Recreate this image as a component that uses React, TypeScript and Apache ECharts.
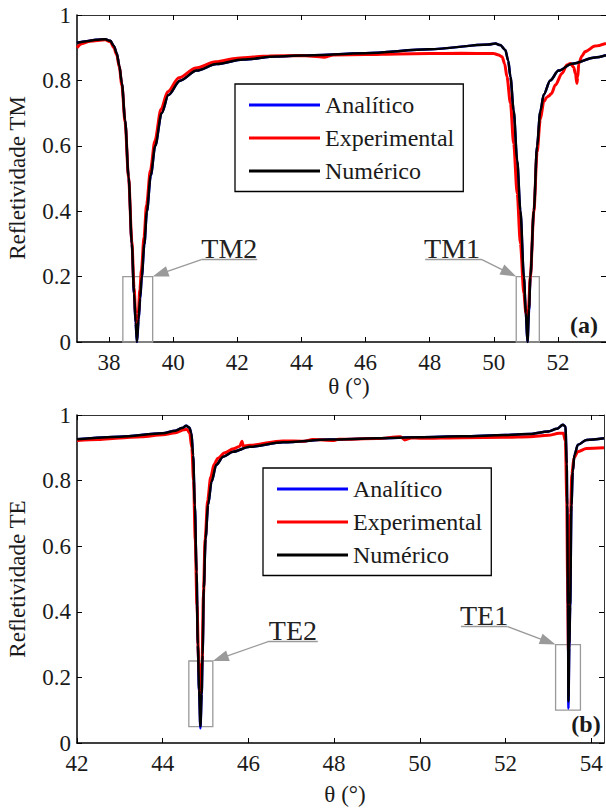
import React, { useEffect, useRef } from 'react';
import * as echarts from 'echarts';

const FONT = 'Liberation Serif';
const TEXT = '#1a1a1a';
const NOTE = '#9a9a9a';

const SERIES_NAMES = ['Analítico', 'Experimental', 'Numérico'];
const SERIES_COLORS = ['#0000ff', '#ff0000', '#000000'];

// ---- (a) TM reflectivity ----
const tmTicks = [38, 40, 42, 44, 46, 48, 50, 52];
const tmRange = [37, 53.5];

const tmNumerico: number[][] = [
  [37.0, 0.915], [37.3, 0.92], [37.6, 0.924], [37.88, 0.926], [38.04, 0.921], [38.15, 0.905],
  [38.24, 0.883], [38.32, 0.845], [38.4, 0.791], [38.5, 0.679], [38.61, 0.505], [38.71, 0.302],
  [38.78, 0.149], [38.83, 0.06], [38.87, 0.0], [38.92, 0.07], [38.97, 0.135], [39.02, 0.2],
  [39.1, 0.3], [39.18, 0.4], [39.3, 0.51], [39.44, 0.6], [39.64, 0.7], [39.85, 0.755],
  [40.21, 0.799], [40.73, 0.83], [41.35, 0.85], [42.18, 0.864], [43.22, 0.873], [44.0, 0.876],
  [46.0, 0.883], [48.0, 0.895], [49.84, 0.91], [50.05, 0.913], [50.2, 0.908], [50.36, 0.893],
  [50.45, 0.86], [50.52, 0.811], [50.62, 0.709], [50.73, 0.556], [50.83, 0.403], [50.94, 0.199],
  [51.0, 0.09], [51.05, 0.0], [51.1, 0.1], [51.14, 0.199], [51.25, 0.403], [51.35, 0.6],
  [51.45, 0.705], [51.56, 0.757], [51.76, 0.8], [52.02, 0.83], [52.44, 0.851], [53.16, 0.87],
  [53.5, 0.877],
];

const tmAnalitico: number[][] = [
  [37.0, 0.915], [37.3, 0.92], [37.6, 0.924], [37.88, 0.926], [38.04, 0.921], [38.15, 0.905],
  [38.24, 0.883], [38.32, 0.845], [38.4, 0.79], [38.5, 0.677], [38.61, 0.502], [38.71, 0.298],
  [38.78, 0.145], [38.83, 0.055], [38.87, 0.0], [38.92, 0.065], [38.97, 0.13], [39.02, 0.197],
  [39.1, 0.297], [39.18, 0.398], [39.3, 0.508], [39.44, 0.6], [39.64, 0.7], [39.85, 0.755],
  [40.21, 0.799], [40.73, 0.83], [41.35, 0.85], [42.18, 0.864], [43.22, 0.873], [44.0, 0.876],
  [46.0, 0.883], [48.0, 0.895], [49.84, 0.91], [50.05, 0.913], [50.2, 0.908], [50.36, 0.893],
  [50.45, 0.86], [50.52, 0.81], [50.62, 0.706], [50.73, 0.552], [50.83, 0.398], [50.94, 0.195],
  [51.0, 0.085], [51.05, 0.0], [51.1, 0.095], [51.14, 0.195], [51.25, 0.4], [51.35, 0.598],
  [51.45, 0.704], [51.56, 0.757], [51.76, 0.8], [52.02, 0.83], [52.44, 0.851], [53.16, 0.87],
  [53.5, 0.877],
];

const tmExperimental: number[][] = [
  [37.0, 0.9], [37.15, 0.912], [37.4, 0.92], [37.88, 0.924], [38.04, 0.918], [38.15, 0.9],
  [38.24, 0.878], [38.32, 0.84], [38.4, 0.785], [38.5, 0.672], [38.61, 0.5], [38.71, 0.31],
  [38.78, 0.165], [38.83, 0.085], [38.87, 0.046], [38.91, 0.085], [38.96, 0.16], [39.01, 0.22],
  [39.09, 0.32], [39.17, 0.42], [39.29, 0.525], [39.43, 0.615], [39.62, 0.712], [39.83, 0.765],
  [40.18, 0.808], [40.71, 0.838], [41.33, 0.857], [42.0, 0.868], [43.0, 0.875], [44.0, 0.876],
  [44.7, 0.871], [45.0, 0.878], [46.0, 0.879], [47.0, 0.881], [48.0, 0.882], [49.0, 0.883],
  [50.0, 0.882], [50.15, 0.878], [50.26, 0.872], [50.34, 0.85], [50.41, 0.811], [50.52, 0.73],
  [50.62, 0.607], [50.73, 0.454], [50.83, 0.301], [50.94, 0.148], [51.0, 0.09], [51.04, 0.075],
  [51.08, 0.1], [51.14, 0.2], [51.25, 0.4], [51.35, 0.58], [51.45, 0.68], [51.56, 0.735],
  [51.65, 0.748], [51.71, 0.752], [51.8, 0.76], [51.92, 0.786], [52.13, 0.822], [52.28, 0.847],
  [52.39, 0.852], [52.49, 0.84], [52.55, 0.82], [52.59, 0.791], [52.62, 0.81], [52.65, 0.852],
  [52.75, 0.875], [52.85, 0.888], [53.16, 0.905], [53.5, 0.913],
];

// ---- (b) TE reflectivity ----
const teTicks = [42, 44, 46, 48, 50, 52, 54];
const teRange = [42, 54.3];

const teNumerico: number[][] = [
  [42.0, 0.926], [43.0, 0.934], [44.0, 0.944], [44.3, 0.952], [44.45, 0.96], [44.55, 0.967],
  [44.62, 0.962], [44.67, 0.945], [44.71, 0.878], [44.75, 0.726], [44.79, 0.523], [44.82, 0.3],
  [44.85, 0.16], [44.88, 0.051], [44.91, 0.15], [44.93, 0.269], [44.96, 0.472], [45.0, 0.624],
  [45.06, 0.726], [45.14, 0.797], [45.25, 0.848], [45.41, 0.873], [45.64, 0.888], [46.03, 0.903],
  [46.81, 0.917], [47.9, 0.925], [49.0, 0.929], [50.0, 0.932], [51.0, 0.935], [52.0, 0.939],
  [52.56, 0.942], [53.0, 0.95], [53.2, 0.958], [53.34, 0.97], [53.4, 0.965], [53.43, 0.85],
  [53.44, 0.726], [53.46, 0.421], [53.47, 0.127], [53.49, 0.3], [53.51, 0.421], [53.54, 0.726],
  [53.57, 0.827], [53.61, 0.878], [53.69, 0.909], [53.89, 0.924], [54.3, 0.929],
];

const teAnalitico: number[][] = [
  [42.0, 0.926], [43.0, 0.934], [44.0, 0.944], [44.3, 0.952], [44.45, 0.96], [44.55, 0.967],
  [44.62, 0.962], [44.67, 0.945], [44.71, 0.876], [44.75, 0.722], [44.79, 0.518], [44.82, 0.295],
  [44.85, 0.155], [44.88, 0.045], [44.91, 0.145], [44.93, 0.265], [44.96, 0.47], [45.0, 0.622],
  [45.06, 0.726], [45.14, 0.797], [45.25, 0.848], [45.41, 0.873], [45.64, 0.888], [46.03, 0.903],
  [46.81, 0.917], [47.9, 0.925], [49.0, 0.929], [50.0, 0.932], [51.0, 0.935], [52.0, 0.939],
  [52.56, 0.942], [53.0, 0.95], [53.2, 0.958], [53.34, 0.97], [53.4, 0.965], [53.43, 0.85],
  [53.44, 0.722], [53.46, 0.41], [53.47, 0.105], [53.49, 0.29], [53.51, 0.415], [53.54, 0.724],
  [53.57, 0.827], [53.61, 0.878], [53.69, 0.909], [53.89, 0.924], [54.3, 0.929],
];

const teExperimental: number[][] = [
  [42.0, 0.922], [42.5, 0.925], [43.0, 0.93], [43.5, 0.934], [44.0, 0.94], [44.3, 0.946],
  [44.5, 0.955], [44.57, 0.956], [44.63, 0.945], [44.68, 0.9], [44.72, 0.8], [44.76, 0.62],
  [44.8, 0.42], [44.84, 0.25], [44.88, 0.14], [44.92, 0.25], [44.95, 0.45], [44.99, 0.62],
  [45.05, 0.74], [45.12, 0.81], [45.2, 0.85], [45.29, 0.868], [45.45, 0.885], [45.65, 0.897],
  [45.8, 0.905], [45.85, 0.92], [45.88, 0.905], [46.03, 0.908], [46.8, 0.921], [47.3, 0.92],
  [47.5, 0.925], [48.0, 0.922], [48.1, 0.926], [49.0, 0.928], [49.55, 0.934], [49.65, 0.924],
  [49.8, 0.93], [50.0, 0.929], [51.0, 0.931], [52.0, 0.932], [52.56, 0.934], [53.0, 0.938],
  [53.25, 0.944], [53.35, 0.944], [53.4, 0.92], [53.43, 0.75], [53.45, 0.5], [53.47, 0.28],
  [53.49, 0.45], [53.52, 0.7], [53.55, 0.82], [53.6, 0.87], [53.69, 0.888], [53.89, 0.898],
  [54.3, 0.9],
];

// Annotations in data units: zoom box, underline (x0, x1, y), arrow start x, arrow tip, label centre x
const tmNotes = [
  { label: 'TM2', box: [38.43, 0, 39.36, 0.2], under: [40.88, 42.62, 0.252], from: 40.88, tip: [39.36, 0.2], textX: 41.75 },
  { label: 'TM1', box: [50.7, 0, 51.42, 0.2], under: [47.86, 49.63, 0.252], from: 49.63, tip: [50.7, 0.2], textX: 48.7 },
];
const teNotes = [
  { label: 'TE2', box: [44.61, 0.05, 45.17, 0.25], under: [46.46, 47.62, 0.309], from: 46.46, tip: [45.17, 0.25], textX: 47.04 },
  { label: 'TE1', box: [53.17, 0.1, 53.75, 0.3], under: [50.96, 52.05, 0.355], from: 52.05, tip: [53.17, 0.3], textX: 51.5 },
];

const ARROW_LEN = 16;
const ARROW_WIDTH = 11;

function xAxes(gridIndex: number, range: number[], ticks: number[]) {
  const base = {
    type: 'value', gridIndex, min: range[0], max: range[1],
    splitLine: { show: false },
  };
  return [
    {
      ...base, position: 'bottom',
      axisLine: { show: true, onZero: false, lineStyle: { color: '#000', width: 1.5 } },
      axisTick: { show: true, inside: true, length: 5, customValues: ticks, lineStyle: { color: '#000', width: 1 } },
      axisLabel: { show: true, customValues: ticks, margin: 9, fontSize: 23, fontFamily: FONT, color: TEXT },
    },
    {
      ...base, position: 'top',
      axisLine: { show: true, onZero: false, lineStyle: { color: '#333', width: 1 } },
      axisTick: { show: true, inside: true, length: 5, customValues: ticks, lineStyle: { color: '#000', width: 1 } },
      axisLabel: { show: false },
    },
  ];
}

function yAxes(gridIndex: number) {
  const base = { type: 'value', gridIndex, min: 0, max: 1, interval: 0.2, splitLine: { show: false } };
  return [
    {
      ...base, position: 'left',
      axisLine: { show: true, onZero: false, lineStyle: { color: '#000', width: 1.5 } },
      axisTick: { show: true, inside: true, length: 5, lineStyle: { color: '#000', width: 1 } },
      axisLabel: { show: true, margin: 6, fontSize: 23, fontFamily: FONT, color: TEXT },
    },
    {
      ...base, position: 'right',
      axisLine: { show: true, onZero: false, lineStyle: { color: '#333', width: 1 } },
      axisTick: { show: true, inside: true, length: 5, lineStyle: { color: '#000', width: 1 } },
      axisLabel: { show: false },
    },
  ];
}

type Note = typeof tmNotes[number];

// arrowEnds: where each arrow's line stops so that the head's point lands on the box corner
function markers(notes: Note[], arrowEnds: number[][] | null) {
  return {
    markArea: {
      silent: true,
      itemStyle: { color: 'rgba(0,0,0,0)', borderColor: NOTE, borderWidth: 1.3 },
      label: { show: false },
      data: notes.map((n) => [{ coord: [n.box[0], n.box[1]] }, { coord: [n.box[2], n.box[3]] }]),
    },
    markLine: {
      silent: true,
      animation: false,
      symbol: ['none', 'none'],
      label: { show: false },
      lineStyle: { color: NOTE, width: 1.3, type: 'solid' },
      emphasis: { disabled: true },
      data: notes.flatMap((n, i) => [
        [{ coord: [n.under[0], n.under[2]], symbol: 'none' }, { coord: [n.under[1], n.under[2]], symbol: 'none' }],
        [
          { coord: [n.from, n.under[2]], symbol: 'none' },
          { coord: arrowEnds ? arrowEnds[i] : n.tip, symbol: 'triangle', symbolSize: [ARROW_WIDTH, ARROW_LEN] },
        ],
      ]),
    },
    markPoint: {
      silent: true,
      animation: false,
      data: notes.map((n) => ({
        coord: [n.textX, n.under[2]],
        symbol: 'rect',
        symbolSize: 1,
        itemStyle: { color: 'rgba(0,0,0,0)' },
        label: {
          show: true, position: 'top', distance: 0, offset: [0, 3], formatter: n.label,
          fontSize: 28, fontFamily: FONT, color: '#222',
        },
      })),
    },
  };
}

function lineSeries(idx: number, axis: number, data: number[][], extra: object = {}) {
  const widths = [2.5, 3, 2.5];
  return {
    name: SERIES_NAMES[idx],
    type: 'line',
    xAxisIndex: axis,
    yAxisIndex: axis,
    data,
    showSymbol: false,
    symbol: 'none',
    smooth: 0.3,
    smoothMonotone: 'x',
    color: SERIES_COLORS[idx],
    lineStyle: { color: SERIES_COLORS[idx], width: widths[idx] },
    emphasis: { disabled: true },
    z: 2 + idx,
    ...extra,
  };
}

function legend(left: number, top: number) {
  return {
    data: SERIES_NAMES,
    left, top,
    orient: 'vertical',
    icon: 'rect',
    itemWidth: 71,
    itemHeight: 3,
    itemGap: 9,
    padding: [9, 9, 8.5, 14],
    borderColor: '#000',
    borderWidth: 1.3,
    backgroundColor: '#fff',
    selectedMode: false,
    textStyle: { fontSize: 24, fontFamily: FONT, color: TEXT },
  };
}

function label(text: string, x: number, y: number, size: number, rotate = false, bold = false) {
  return {
    type: 'text', x, y,
    rotation: rotate ? Math.PI / 2 : 0,
    style: {
      text, fill: TEXT, fontFamily: FONT, fontSize: size, fontWeight: bold ? 'bold' : 'normal',
      align: 'center', verticalAlign: 'middle',
    },
  };
}

function buildOption(tmEnds: number[][] | null, teEnds: number[][] | null) {
  return {
    animation: false,
    backgroundColor: '#fff',
    textStyle: { fontFamily: FONT },
    grid: [
      { left: 77, top: 15, width: 530, height: 327, containLabel: false },
      { left: 77, top: 415, width: 527, height: 328, containLabel: false },
    ],
    xAxis: [...xAxes(0, tmRange, tmTicks), ...xAxes(1, teRange, teTicks)],
    yAxis: [...yAxes(0), ...yAxes(1)],
    legend: [legend(235, 84), legend(263, 468)],
    series: [
      lineSeries(0, 0, tmAnalitico),
      lineSeries(1, 0, tmExperimental),
      lineSeries(2, 0, tmNumerico, markers(tmNotes, tmEnds)),
      lineSeries(0, 2, teAnalitico),
      lineSeries(1, 2, teExperimental),
      lineSeries(2, 2, teNumerico, markers(teNotes, teEnds)),
    ],
    graphic: [
      label('Refletividade TM', 17, 178, 23, true),
      label('θ (°)', 349, 386, 23),
      label('(a)', 584, 325, 24, false, true),
      label('Refletividade TE', 17, 579, 23, true),
      label('θ (°)', 345, 794, 23),
      label('(b)', 586, 724, 24, false, true),
    ],
  };
}

// Pull each arrow's end back by half the head length (the head is centred on the line end)
function arrowEnds(chart: echarts.ECharts, notes: Note[], axis: number) {
  const finder = { xAxisIndex: axis, yAxisIndex: axis };
  return notes.map((n) => {
    const p0 = chart.convertToPixel(finder, [n.from, n.under[2]]) as number[];
    const p1 = chart.convertToPixel(finder, n.tip) as number[];
    const dx = p1[0] - p0[0];
    const dy = p1[1] - p0[1];
    const len = Math.hypot(dx, dy) || 1;
    const back = ARROW_LEN / 2;
    const q = [p1[0] - (dx / len) * back, p1[1] - (dy / len) * back];
    return chart.convertFromPixel(finder, q) as number[];
  });
}

export default function App() {
  const ref = useRef<HTMLDivElement>(null);
  useEffect(() => {
    const chart = echarts.init(ref.current!, null, { renderer: 'svg' });
    chart.setOption(buildOption(null, null) as any);
    const tmEnds = arrowEnds(chart, tmNotes, 0);
    const teEnds = arrowEnds(chart, teNotes, 2);
    chart.setOption(buildOption(tmEnds, teEnds) as any, { notMerge: true });
    return () => chart.dispose();
  }, []);
  return (
    <div
      ref={ref}
      style={{ position: 'absolute', left: 0, top: 0, width: 606, height: 808, background: '#fff' }}
    />
  );
}
